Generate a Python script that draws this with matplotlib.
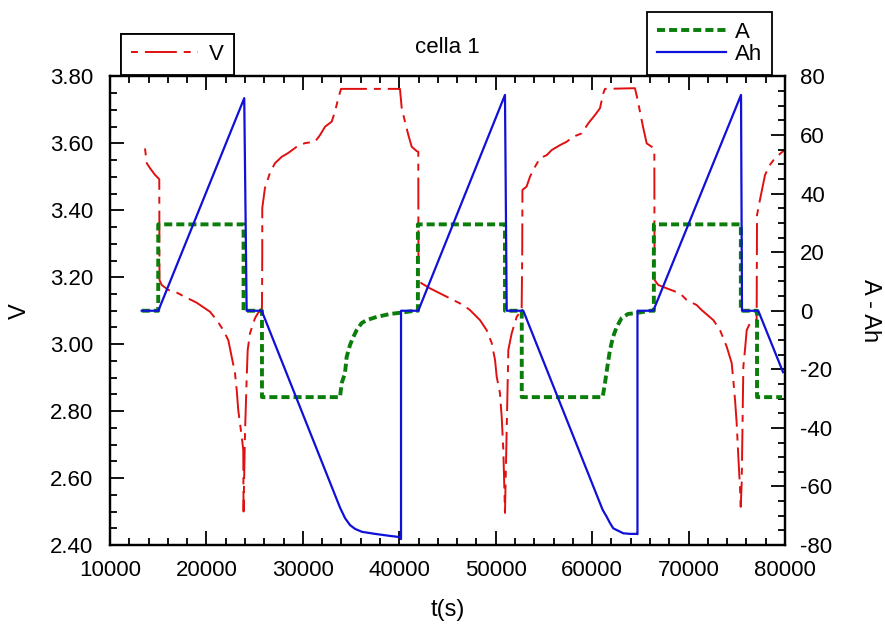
import matplotlib
matplotlib.use("Agg")
import matplotlib.pyplot as plt
from matplotlib.ticker import MultipleLocator, FormatStrFormatter

plt.rcParams['font.family'] = ['Liberation Sans', 'DejaVu Sans']
plt.rcParams['lines.scale_dashes'] = False
plt.rcParams['axes.unicode_minus'] = False

# tensione V(t)
t_v = [13630, 13810, 14150, 14670, 15110, 15130, 15360, 16050, 16740, 17600,
       18990, 20370, 21070, 21750, 22270, 22620, 22960, 23140, 23300, 23660,
       23820, 23850, 23900, 24000, 24100, 24180, 24280, 24520, 25040, 25350,
       25760, 25790, 25790, 26070, 26590, 27110, 27810, 28460, 29360, 30220,
       31260, 31780, 32300, 32990, 33330, 33680, 33960, 40070, 40250, 40590,
       40940, 41290, 41810, 41970, 41990, 42310, 43180, 44220, 45600, 46640,
       47330, 48370, 49060, 49580, 49930, 50100, 50440, 50620, 50790, 50960,
       51140, 51310, 51660, 52180, 52690, 52750, 52770, 53200, 53560, 54070,
       54590, 55290, 55800, 56670, 57360, 58040, 58920, 59600, 60300, 60810,
       61160, 61330, 64440, 64680, 64960, 65310, 65660, 66180, 66450, 66470,
       66860, 67730, 69110, 69810, 70840, 71360, 72570, 73260, 73950, 74470,
       74640, 74820, 74990, 75160, 75330, 75410, 75510, 75610, 75680, 75850,
       76030, 76370, 76890, 77060, 77100, 77400, 77930, 78440, 78960, 79690,
       80000]
v = [3.585, 3.541, 3.526, 3.506, 3.493, 3.192, 3.177, 3.162, 3.157, 3.144,
     3.124, 3.097, 3.072, 3.042, 3.012, 2.963, 2.914, 2.863, 2.803, 2.724,
     2.684, 2.500, 2.585, 2.735, 2.833, 2.903, 2.983, 3.033, 3.078, 3.093,
     3.108, 3.276, 3.407, 3.467, 3.512, 3.541, 3.560, 3.571, 3.590, 3.601,
     3.605, 3.625, 3.650, 3.665, 3.695, 3.736, 3.763, 3.763, 3.706, 3.665,
     3.625, 3.590, 3.577, 3.575, 3.192, 3.182, 3.167, 3.152, 3.132, 3.117,
     3.102, 3.072, 3.042, 3.004, 2.953, 2.903, 2.854, 2.783, 2.684, 2.496,
     2.743, 2.983, 3.033, 3.082, 3.102, 3.280, 3.461, 3.471, 3.501, 3.530,
     3.556, 3.565, 3.580, 3.595, 3.605, 3.620, 3.630, 3.660, 3.685, 3.705,
     3.750, 3.763, 3.765, 3.735, 3.695, 3.645, 3.600, 3.590, 3.580, 3.192,
     3.177, 3.167, 3.152, 3.132, 3.117, 3.102, 3.072, 3.042, 2.993, 2.944,
     2.893, 2.833, 2.764, 2.664, 2.574, 2.514, 2.585, 2.783, 2.933, 2.983,
     3.042, 3.063, 3.072, 3.072, 3.386, 3.431, 3.506, 3.536, 3.556, 3.574,
     3.580]

# corrente A(t)
t_a = [13300, 15000, 15000, 23850, 23850, 25760, 25760, 33850, 34030, 34370,
       34540, 34890, 35230, 35580, 36100, 36620, 37660, 39040, 40070, 41630,
       41930, 41930, 50960, 50960, 52700, 52700, 61090, 61330, 61640, 61850,
       62160, 62550, 63060, 63720, 64750, 66000, 66400, 66400, 75420, 75420,
       77100, 77100, 79700]
a = [0, 0, 29.5, 29.5, 0, 0, -29.5, -29.5, -24.7, -21.3,
     -15.8, -11.7, -9.0, -6.6, -4.2, -3.2, -2.1, -1.1, -0.7, 0,
     0, 29.5, 29.5, 0, 0, -29.5, -29.5, -24.7, -17.8, -13.4,
     -9.0, -5.5, -2.5, -1.1, -0.7, 0, 0, 29.5, 29.5, 0,
     0, -29.5, -29.5]

# carica Ah(t)
t_ah = [13290, 15010, 23920, 24170, 25730, 33850, 34370, 34890, 35410, 36130,
        37480, 39040, 40070, 40180, 40180, 41970, 50960, 51140, 52860, 61090,
        61500, 61850, 62190, 62550, 63230, 63930, 64620, 64700, 64700, 66340,
        75440, 75540, 77230, 79800]
ah = [0, 0, 72.6, 0, 0, -67.2, -70.8, -73.2, -74.5, -75.5,
      -76.2, -76.9, -77.3, -78.0, 0, 0, 73.7, 0, 0, -68.0,
      -70.3, -72.5, -74.3, -74.9, -76.0, -76.2, -76.2, -76.3, 0, 0,
      73.7, 0, 0, -21.0]

fig = plt.figure(figsize=(8.85, 6.26), dpi=100)
ax = fig.add_axes([0.1243, 0.1294, 0.7627, 0.7484])
ax2 = ax.twinx()

lv, = ax.plot(t_v, v, color='#e01010', lw=1.4, dashes=[5, 5, 23, 5], label='V')
la, = ax2.plot(t_a, a, color='#0a7d0a', lw=2.8, dashes=[5.8, 2.9], label='A')
lah, = ax2.plot(t_ah, ah, color='#1010d8', lw=1.6, label='Ah')

ax.set_xlim(10000, 80000)
ax.set_ylim(2.4, 3.8)
ax2.set_ylim(-80, 80)

ax.xaxis.set_major_locator(MultipleLocator(10000))
ax.xaxis.set_minor_locator(MultipleLocator(2000))
ax.yaxis.set_major_locator(MultipleLocator(0.2))
ax.yaxis.set_minor_locator(MultipleLocator(0.05))
ax.yaxis.set_major_formatter(FormatStrFormatter('%.2f'))
ax2.yaxis.set_major_locator(MultipleLocator(20))
ax2.yaxis.set_minor_locator(MultipleLocator(5))

ax.tick_params(which='both', direction='in', top=True, right=False, width=1.3, labelsize=16)
ax.tick_params(which='major', length=10)
ax.tick_params(which='minor', length=5)
ax.tick_params(axis='x', pad=11)
ax.tick_params(axis='y', pad=12)
ax2.tick_params(which='both', direction='in', width=1.3, labelsize=16, pad=11)
ax2.tick_params(which='major', length=10)
ax2.tick_params(which='minor', length=5)

for sp in ax.spines.values():
    sp.set_linewidth(1.6)
for sp in ax2.spines.values():
    sp.set_linewidth(1.6)

ax.set_xlabel('t(s)', fontsize=17, labelpad=13)
ax.set_ylabel('V', fontsize=17, labelpad=14)
ax2.set_ylabel('A - Ah', fontsize=17, rotation=270, va='bottom', labelpad=19)
ax.set_title('cella 1', fontsize=16, pad=17)

leg1 = ax.legend(handles=[lv], loc='lower left', bbox_to_anchor=(121 / 885, 1 - 75 / 626),
                 bbox_transform=fig.transFigure, borderaxespad=0, fontsize=16,
                 fancybox=False, edgecolor='black', framealpha=1,
                 handlelength=3.0, handletextpad=0.5, borderpad=0.45)
leg1.get_frame().set_linewidth(1.3)
ax.add_artist(leg1)
leg2 = ax2.legend(handles=[la, lah], loc='lower left', bbox_to_anchor=(647 / 885, 1 - 75 / 626),
                  bbox_transform=fig.transFigure, borderaxespad=0, fontsize=16,
                  fancybox=False, edgecolor='black', framealpha=1,
                  handlelength=3.1, handletextpad=0.4, borderpad=0.45, labelspacing=0.05)
leg2.get_frame().set_linewidth(1.3)

fig.savefig('out.png', dpi=100)
